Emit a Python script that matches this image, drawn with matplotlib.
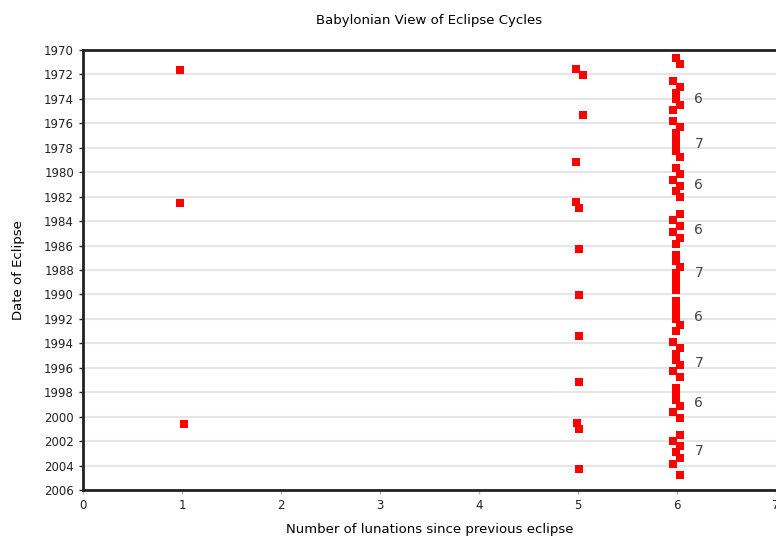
import matplotlib.pyplot as plt

# solar eclipses 1970-2004: date (decimal year) and lunations since previous one
dates = [
    1970.665, 1971.152, 1971.555, 1971.634, 1972.042, 1972.523, 1973.010, 1973.495,
    1973.980, 1974.467, 1974.949, 1975.358, 1975.840, 1976.327, 1976.810, 1977.295,
    1977.780, 1978.264, 1978.752, 1979.155, 1979.640, 1980.127, 1980.608, 1981.095,
    1981.580, 1982.067, 1982.470, 1982.549, 1982.955, 1983.442, 1983.925, 1984.411,
    1984.892, 1985.379, 1985.864, 1986.270, 1986.755, 1987.240, 1987.727, 1988.212,
    1988.695, 1989.179, 1989.664, 1990.070, 1990.555, 1991.040, 1991.525, 1992.010,
    1992.496, 1992.979, 1993.385, 1993.867, 1994.355, 1994.840, 1995.325, 1995.812,
    1996.294, 1996.780, 1997.185, 1997.670, 1998.155, 1998.640, 1999.127, 1999.610,
    2000.097, 2000.499, 2000.581, 2000.982, 2001.470, 2001.952, 2002.440, 2002.925,
    2003.412, 2003.895, 2004.300, 2004.786,
]
lunations = [
    5.994, 6.028, 4.978, 0.982, 5.046, 5.960, 6.028, 5.994,
    5.994, 6.028, 5.960, 5.046, 5.960, 6.028, 5.994, 5.994,
    5.994, 5.994, 6.028, 4.978, 5.994, 6.028, 5.960, 6.028,
    5.994, 6.028, 4.978, 0.982, 5.012, 6.028, 5.960, 6.028,
    5.960, 6.028, 5.994, 5.012, 5.994, 5.994, 6.028, 5.994,
    5.994, 5.994, 5.994, 5.012, 5.994, 5.994, 5.994, 5.994,
    6.028, 5.994, 5.012, 5.960, 6.028, 5.994, 5.994, 6.028,
    5.960, 6.028, 5.012, 5.994, 5.994, 5.994, 6.028, 5.960,
    6.028, 4.985, 1.016, 5.012, 6.028, 5.960, 6.028, 5.994,
    6.028, 5.960, 5.012, 6.028,
]

# run lengths written next to the 6-lunation column
run_labels = ['6', '7', '6', '6', '7', '6', '7', '6', '7']
run_label_years = [1974.03, 1977.69, 1981.05, 1984.73, 1988.27, 1991.82, 1995.59, 1998.86, 2002.81]

plt.rcParams['font.family'] = ['DejaVu Sans']

fig = plt.figure(figsize=(7.76, 5.37), dpi=100)
ax = fig.add_axes([0.107, 0.0875, 0.893, 0.8195])

ax.plot(lunations, dates, 's', color='#ff0000', markersize=5.5, markeredgewidth=0, zorder=3)

for lab, yr in zip(run_labels, run_label_years):
    ax.text(6.22, yr, lab, ha='center', va='center', fontsize=10, color='#444444')

ax.set_xlim(0, 7)
ax.set_ylim(2006, 1970)
ax.set_xticks(range(0, 8))
ax.set_yticks(range(1970, 2007, 2))
ax.tick_params(axis='both', labelsize=8.5, length=3, width=1, colors='#222222')
ax.tick_params(axis='x', color='#bbbbbb')

ax.grid(axis='y', color='#e6e6e6', linewidth=1.5)
ax.set_axisbelow(True)

for side in ['top', 'bottom', 'left']:
    ax.spines[side].set_linewidth(2)
    ax.spines[side].set_color('#222222')
ax.spines['right'].set_visible(False)

ax.set_title('Babylonian View of Eclipse Cycles', fontsize=9.5, pad=19)
ax.set_xlabel('Number of lunations since previous eclipse', fontsize=9.5, labelpad=8)
ax.set_ylabel('Date of Eclipse', fontsize=9.5, labelpad=14)

fig.savefig('out.png', dpi=100)
